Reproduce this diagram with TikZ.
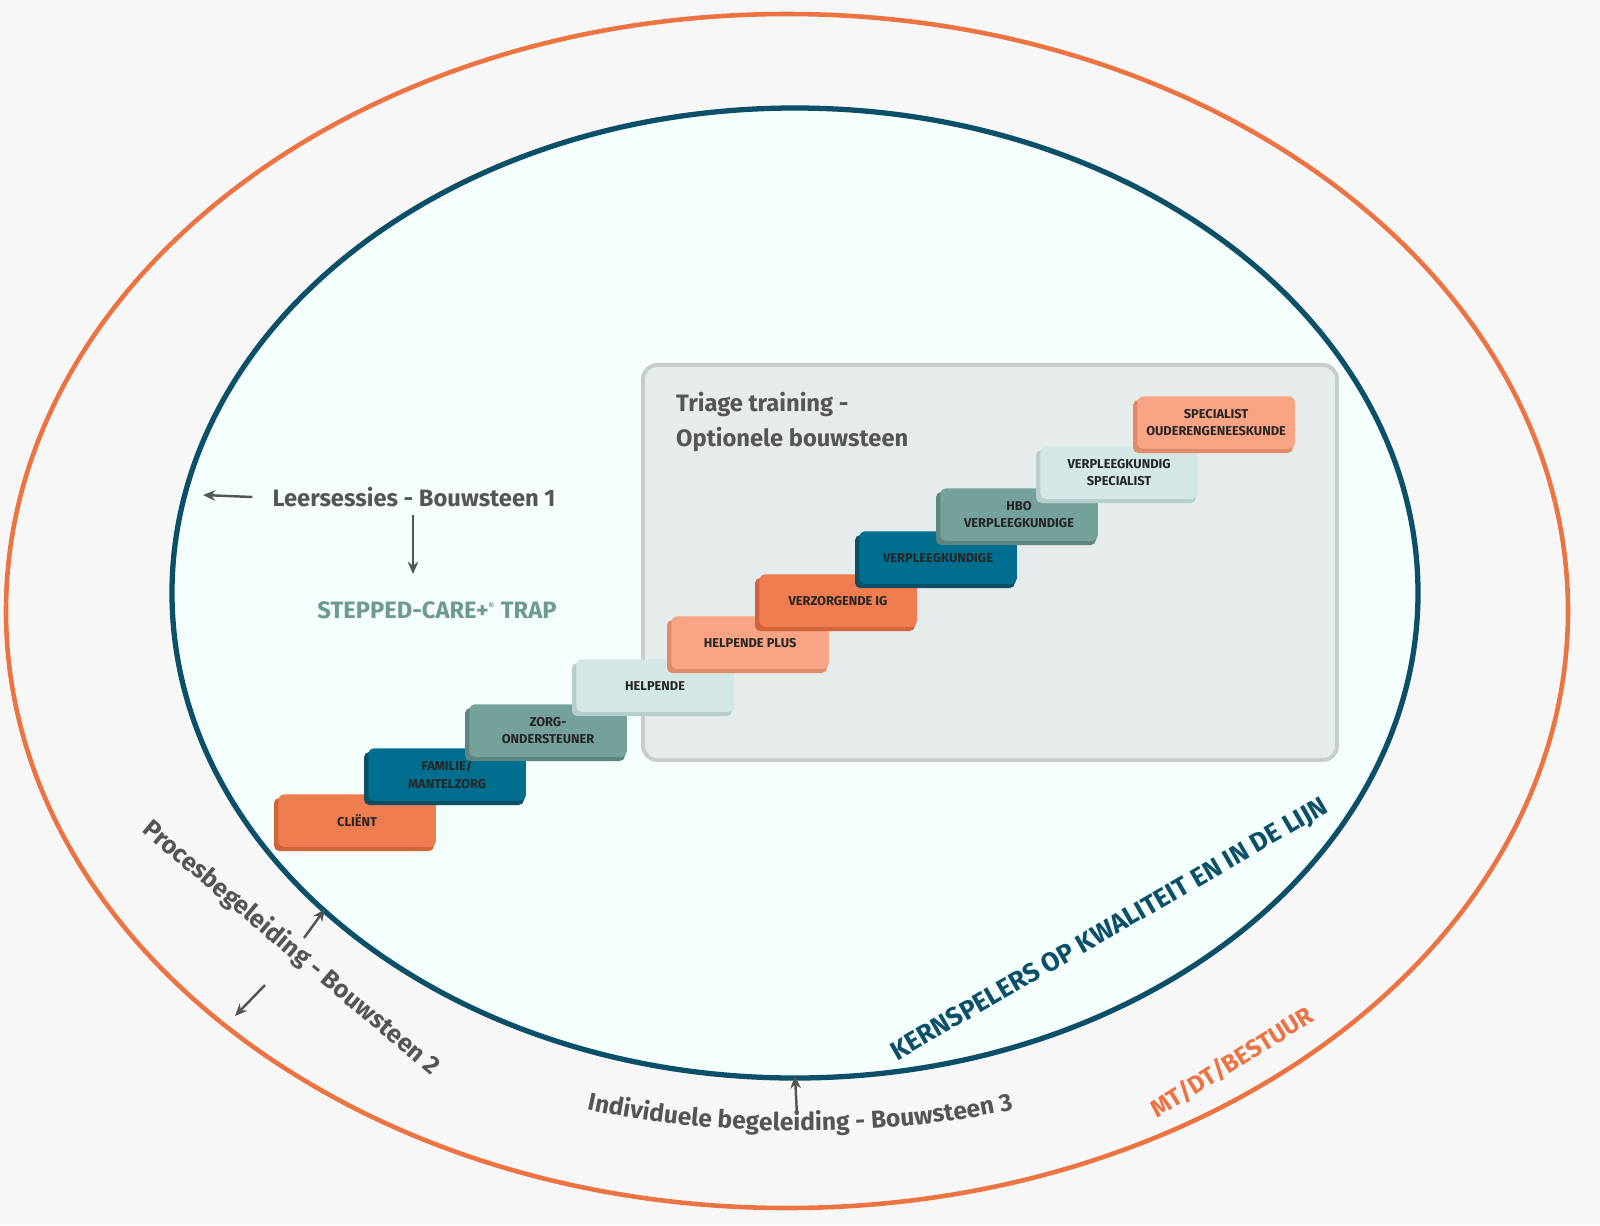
\documentclass[tikz,border=0pt]{standalone}
\usepackage{fontspec}
\setmainfont{Fira Sans}
\usetikzlibrary{arrows.meta,decorations.text}
\definecolor{bg}{HTML}{F7F7F7}
\definecolor{orng}{HTML}{EC7443}
\definecolor{teal}{HTML}{0B5068}
\definecolor{inner}{HTML}{F4FEFD}
\definecolor{boxf}{HTML}{E6ECEB}
\definecolor{boxd}{HTML}{C8CDCC}
\definecolor{txt}{HTML}{555555}
\definecolor{cO}{HTML}{F07D4F}\definecolor{cOd}{HTML}{D2643A}
\definecolor{cB}{HTML}{006E8F}\definecolor{cBd}{HTML}{0B4F66}
\definecolor{cG}{HTML}{74A19A}\definecolor{cGd}{HTML}{5E8580}
\definecolor{cL}{HTML}{D3E8E6}\definecolor{cLd}{HTML}{B7CFCC}
\definecolor{cP}{HTML}{F9A484}\definecolor{cPd}{HTML}{E08A68}
\definecolor{stp}{HTML}{6E9A93}
\tikzset{
 stepbox/.style={rounded corners=3pt,minimum width=3.15cm,minimum height=1.05cm,inner sep=1pt,align=center,font=\fontsize{7.3}{10}\selectfont\bfseries,text=black!85},
 lab/.style={text=txt,font=\fontsize{13.5}{16}\selectfont\bfseries},
 arr/.style={-{Stealth[length=7pt,width=6pt]},line width=1.4pt,draw=txt}
}
\newcommand\stepnode[6]{% name, x1,y1, fill, dark, text
 \fill[#5,rounded corners=3pt] (#2-4,#3+4) rectangle ++(160,53);
 \node[stepbox,fill=#4,anchor=north west] (#1) at (#2,#3) {#6};}
\begin{document}
\begin{tikzpicture}[x=0.02cm,y=-0.02cm]
\fill[bg] (0,0) rectangle (1600,1225);
\useasboundingbox (0,0) rectangle (1600,1225);
\draw[orng,line width=2.6pt] (787,611) ellipse [x radius=781,y radius=597];
\draw[teal,line width=3pt,fill=inner] (795,593) ellipse [x radius=623,y radius=485];
\draw[boxd,fill=boxf,line width=2.2pt,rounded corners=8pt] (643,365) rectangle (1337,760);
\stepnode{s1}{278}{794}{cO}{cOd}{CLIËNT}
\stepnode{s2}{368}{748}{cB}{cBd}{FAMILIE/\\MANTELZORG}
\stepnode{s3}{469}{704}{cG}{cGd}{ZORG-\\ONDERSTEUNER}
\stepnode{s4}{576}{659}{cL}{cLd}{HELPENDE}
\stepnode{s5}{671}{616}{cP}{cPd}{HELPENDE PLUS}
\stepnode{s6}{759}{574}{cO}{cOd}{VERZORGENDE IG}
\stepnode{s7}{859}{531}{cB}{cBd}{VERPLEEGKUNDIGE}
\stepnode{s8}{940}{488}{cG}{cGd}{HBO\\VERPLEEGKUNDIGE}
\stepnode{s9}{1040}{446}{cL}{cLd}{VERPLEEGKUNDIG\\SPECIALIST}
\stepnode{s10}{1137}{396}{cP}{cPd}{SPECIALIST\\OUDERENGENEESKUNDE}
\node[lab,anchor=west,align=left,font=\fontsize{13.5}{20}\selectfont\bfseries] (tri) at (670,422) {Triage training -\\Optionele bouwsteen};
\node[lab] (l1) at (414,497) {Leersessies - Bouwsteen 1};
\coordinate (a1) at (203,495);
\draw[arr] (l1.west)++(-14,0) -- (a1);
\coordinate (a2) at (413,574);
\draw[arr] (413,515) -- (a2);
\node[text=stp,font=\fontsize{13.5}{16}\selectfont\bfseries] (st) at (437,610) {STEPPED-CARE+\textsuperscript{\tiny®} TRAP};
\node[lab,rotate=-40,font=\fontsize{14.3}{16}\selectfont\bfseries] (l2) at (291,948) {Procesbegeleiding - Bouwsteen 2};
\coordinate (a3) at (325,909);\coordinate (a3s) at (304,938);
\draw[arr] (a3s) -- (a3);
\coordinate (a4) at (235,1016);\coordinate (a4s) at (265,985);
\draw[arr] (a4s) -- (a4);
\path[decorate,decoration={text along path,text align=center,text={|\fontsize{14}{16}\selectfont\bfseries\color{txt}|Individuele begeleiding - Bouwsteen 3}}]
  (560,1103) .. controls (700,1140) and (900,1140) .. (1040,1103);
\coordinate (a5) at (795,1076);
\draw[arr] (797,1115) -- (a5);
\node[text=teal,rotate=30,font=\fontsize{15}{18}\selectfont\bfseries] (k) at (1110,930) {KERNSPELERS OP KWALITEIT EN IN DE LIJN};
\node[text=orng,rotate=32,font=\fontsize{14}{16}\selectfont\bfseries] (m) at (1232,1062) {MT/DT/BESTUUR};
\end{tikzpicture}
\end{document}
